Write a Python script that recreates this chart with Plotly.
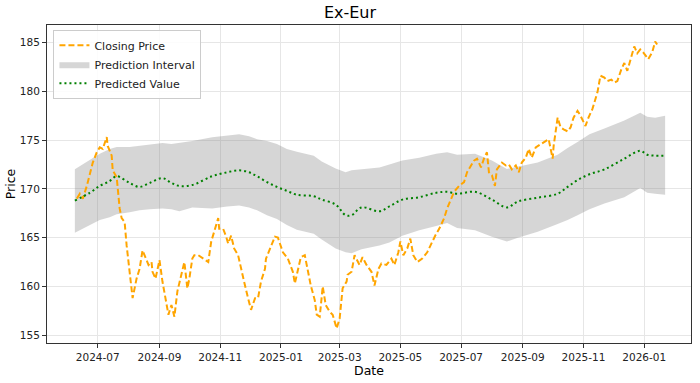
import plotly.graph_objects as go

close_dates = [
    "2024-06-10", "2024-06-13", "2024-06-16", "2024-06-20", "2024-06-26", "2024-06-30",
    "2024-07-03", "2024-07-06", "2024-07-10", "2024-07-11", "2024-07-15", "2024-07-16",
    "2024-07-20", "2024-07-23", "2024-07-25", "2024-07-28", "2024-07-30", "2024-08-02",
    "2024-08-04", "2024-08-05", "2024-08-09", "2024-08-12", "2024-08-15", "2024-08-18",
    "2024-08-21", "2024-08-24", "2024-08-25", "2024-08-28", "2024-09-01", "2024-09-04",
    "2024-09-08", "2024-09-10", "2024-09-13", "2024-09-16", "2024-09-19", "2024-09-25",
    "2024-09-26", "2024-09-29", "2024-10-01", "2024-10-04", "2024-10-06", "2024-10-10",
    "2024-10-15", "2024-10-20", "2024-10-23", "2024-10-26", "2024-10-30", "2024-10-31",
    "2024-11-04", "2024-11-07", "2024-11-09", "2024-11-12", "2024-11-15", "2024-11-19",
    "2024-11-22", "2024-11-25", "2024-11-29", "2024-12-02", "2024-12-06", "2024-12-09",
    "2024-12-12", "2024-12-16", "2024-12-17", "2024-12-21", "2024-12-26", "2024-12-29",
    "2025-01-03", "2025-01-08", "2025-01-13", "2025-01-15", "2025-01-18", "2025-01-21",
    "2025-01-25", "2025-01-27", "2025-01-31", "2025-02-04", "2025-02-06", "2025-02-09",
    "2025-02-12", "2025-02-15", "2025-02-19", "2025-02-22", "2025-02-26", "2025-03-01",
    "2025-03-04", "2025-03-08", "2025-03-09", "2025-03-13", "2025-03-16", "2025-03-21",
    "2025-03-24", "2025-03-28", "2025-04-02", "2025-04-05", "2025-04-09", "2025-04-12",
    "2025-04-17", "2025-04-22", "2025-04-25", "2025-04-29", "2025-05-01", "2025-05-04",
    "2025-05-08", "2025-05-11", "2025-05-14", "2025-05-18", "2025-05-23", "2025-05-28",
    "2025-05-31", "2025-06-05", "2025-06-09", "2025-06-14", "2025-06-17", "2025-06-20",
    "2025-06-24", "2025-06-29", "2025-07-04", "2025-07-07", "2025-07-11", "2025-07-14",
    "2025-07-17", "2025-07-21", "2025-07-24", "2025-07-27", "2025-07-29", "2025-08-01",
    "2025-08-04", "2025-08-06", "2025-08-11", "2025-08-15", "2025-08-18", "2025-08-21",
    "2025-08-25", "2025-08-28", "2025-08-31", "2025-09-04", "2025-09-07", "2025-09-10",
    "2025-09-14", "2025-09-19", "2025-09-24", "2025-09-27", "2025-10-01", "2025-10-02",
    "2025-10-06", "2025-10-09", "2025-10-12", "2025-10-16", "2025-10-19", "2025-10-22",
    "2025-10-26", "2025-10-29", "2025-11-03", "2025-11-06", "2025-11-10", "2025-11-15",
    "2025-11-18", "2025-11-22", "2025-11-25", "2025-11-29", "2025-12-02", "2025-12-05",
    "2025-12-09", "2025-12-12", "2025-12-15", "2025-12-19", "2025-12-22", "2025-12-25",
    "2025-12-28", "2025-12-31", "2026-01-05", "2026-01-09", "2026-01-12", "2026-01-14",
]
close_values = [
    169.0, 169.5, 169.0, 170.3, 172.7, 173.75,
    174.25, 174.1, 175.3, 174.4, 173.4, 171.9,
    171.2, 168.0, 167.0, 166.6, 164.2, 161.2,
    159.3, 158.8, 160.8, 161.8, 163.7, 162.85,
    162.2, 162.5, 161.5, 160.8, 162.7, 160.5,
    158.4, 157.1, 158.1, 156.9, 159.5, 162.2,
    162.5, 159.8, 160.8, 162.85, 163.2, 163.2,
    162.85, 162.5, 164.6, 165.6, 167.0, 165.9,
    165.9, 165.1, 164.4, 165.2, 163.9, 163.2,
    162.0, 160.5, 158.8, 157.6, 158.8, 158.8,
    160.5, 161.8, 162.85, 163.9, 165.1, 165.0,
    163.5, 162.85, 161.5, 160.3, 161.8, 163.0,
    163.2, 162.2, 160.1, 158.6, 157.1, 156.9,
    160.0, 158.1, 157.4, 157.1, 155.7, 156.7,
    159.8, 160.5, 161.2, 161.5, 163.2, 162.2,
    163.0, 162.2, 161.5, 160.1, 161.8, 162.35,
    162.2, 162.85, 162.2, 163.5, 164.6, 163.2,
    163.9, 164.9, 163.2, 162.5, 162.85, 163.5,
    164.2, 165.2, 165.9, 167.0, 168.0, 168.8,
    169.7, 170.3, 170.7, 171.7, 172.4, 172.9,
    173.1, 172.2, 173.1, 173.75, 171.7, 171.4,
    170.3, 172.0, 172.7, 172.4, 172.5, 172.0,
    172.4, 171.7, 172.7, 173.2, 174.1, 173.2,
    174.25, 174.6, 174.9, 175.1, 173.1, 174.4,
    177.3, 176.3, 176.1, 175.9, 176.3, 177.3,
    178.0, 177.5, 176.45, 177.3, 178.2, 179.9,
    181.6, 181.4, 181.05, 181.2, 180.9, 181.05,
    182.25, 182.9, 182.1, 183.4, 184.6, 183.9,
    184.3, 184.0, 183.3, 184.0, 185.1, 184.8,
]

pred_dates = [
    "2024-06-08", "2024-06-23", "2024-07-03", "2024-07-13", "2024-07-20", "2024-08-02",
    "2024-08-12", "2024-08-22", "2024-09-04", "2024-09-13", "2024-09-21", "2024-10-04",
    "2024-10-24", "2024-11-08", "2024-11-20", "2024-11-30", "2024-12-08", "2024-12-18",
    "2024-12-28", "2025-01-07", "2025-01-17", "2025-02-03", "2025-02-11", "2025-02-25",
    "2025-03-07", "2025-03-13", "2025-03-23", "2025-04-10", "2025-04-20", "2025-05-03",
    "2025-05-20", "2025-06-06", "2025-06-17", "2025-06-27", "2025-07-15", "2025-08-01",
    "2025-08-16", "2025-08-27", "2025-09-16", "2025-10-06", "2025-10-16", "2025-10-26",
    "2025-11-07", "2025-11-22", "2025-12-12", "2025-12-28", "2026-01-04", "2026-01-12",
    "2026-01-22",
]
pred_values = [
    168.8, 169.6, 170.3, 170.8, 171.3, 170.6,
    170.2, 170.6, 171.1, 170.6, 170.3, 170.4,
    171.3, 171.7, 171.9, 171.7, 171.3, 170.7,
    170.2, 169.8, 169.4, 169.25, 168.9, 168.4,
    167.3, 167.3, 168.1, 167.7, 168.2, 168.9,
    169.15, 169.6, 169.7, 169.5, 169.7, 168.9,
    168.1, 168.7, 169.1, 169.5, 170.2, 170.9,
    171.5, 172.0, 173.1, 173.9, 173.5, 173.4,
    173.4,
]
upper_values = [
    172.0, 173.0, 173.6, 174.1, 174.3, 174.3,
    174.4, 174.5, 174.7, 174.6, 174.7, 174.9,
    175.3, 175.5, 175.6, 175.4, 175.1, 174.9,
    174.6, 174.1, 173.8, 173.4, 172.8, 172.1,
    171.7, 171.9, 172.0, 172.2, 172.5, 172.9,
    173.2, 173.6, 173.75, 173.5, 173.6, 172.9,
    172.05, 172.3, 172.7, 173.5, 174.2, 174.8,
    175.6, 176.2, 177.0, 177.8, 177.4, 177.3,
    177.5,
]
lower_values = [
    165.5, 166.3, 166.8, 167.1, 167.4, 167.6,
    167.8, 167.9, 168.0, 167.9, 167.7, 168.1,
    168.0, 168.2, 168.3, 168.1, 167.8, 167.3,
    166.9, 166.3, 165.8, 165.4, 164.8, 163.9,
    163.5, 163.4, 163.8, 164.2, 164.5, 165.2,
    165.75, 166.2, 166.5, 166.0, 165.75, 165.1,
    164.6, 165.0, 165.6, 166.4, 166.8, 167.3,
    167.9, 168.5, 169.15, 170.1, 169.6, 169.5,
    169.4,
]

x_ticks = ["2024-07-01", "2024-09-01", "2024-11-01", "2025-01-01", "2025-03-01",
           "2025-05-01", "2025-07-01", "2025-09-01", "2025-11-01", "2026-01-01"]
y_ticks = [155, 160, 165, 170, 175, 180, 185]

FONT = "DejaVu Sans"

fig = go.Figure()

fig.add_trace(go.Scatter(
    x=pred_dates, y=upper_values, mode="lines",
    line=dict(width=0, color="rgba(128,128,128,0)"),
    showlegend=False, hoverinfo="skip",
))
fig.add_trace(go.Scatter(
    x=pred_dates, y=lower_values, mode="lines", fill="tonexty",
    fillcolor="rgba(128,128,128,0.32)",
    line=dict(width=0, color="rgba(128,128,128,0)"),
    name="Prediction Interval", legendrank=2,
))
fig.add_trace(go.Scatter(
    x=close_dates, y=close_values, mode="lines",
    line=dict(color="#FFA500", width=2, dash="6px,3px"),
    name="Closing Price", legendrank=1,
))
fig.add_trace(go.Scatter(
    x=pred_dates, y=pred_values, mode="lines", line_shape="spline",
    line=dict(color="#008000", width=2, dash="2px,3px"),
    name="Predicted Value", legendrank=3,
))

axis_common = dict(
    showline=True, linecolor="#333333", linewidth=1, mirror=True,
    ticks="outside", ticklen=4, tickcolor="#333333",
    showgrid=True, gridcolor="#e6e6e6", gridwidth=1,
    zeroline=False,
    tickfont=dict(family=FONT, size=10.5, color="#222"),
)

fig.update_layout(
    width=700, height=383,
    margin=dict(l=47, r=8, t=25, b=38),
    paper_bgcolor="white", plot_bgcolor="white",
    title=dict(text="Ex-Eur", x=0.5, xanchor="center", y=0.968, yanchor="middle",
               font=dict(family=FONT, size=16, color="black")),
    font=dict(family=FONT, color="black"),
    legend=dict(x=0.01, y=0.985, xanchor="left", yanchor="top", traceorder="normal",
                bgcolor="rgba(255,255,255,0.85)", bordercolor="#cccccc", borderwidth=1,
                font=dict(family=FONT, size=11, color="#222"),
                tracegroupgap=0, itemwidth=30),
    xaxis=dict(**axis_common, range=["2024-05-11", "2026-02-17"],
               tickvals=x_ticks, tickformat="%Y-%m",
               title=dict(text="Date", font=dict(family=FONT, size=12.5), standoff=4)),
    yaxis=dict(**axis_common, range=[154.2, 186.8], tickvals=y_ticks,
               title=dict(text="Price", font=dict(family=FONT, size=12.5), standoff=1)),
)

# remove the browser's default 8px page margin so the figure fills the window
fig.write_html("out.html", config={"displayModeBar": False},
               post_script="document.body.style.margin='0';")
